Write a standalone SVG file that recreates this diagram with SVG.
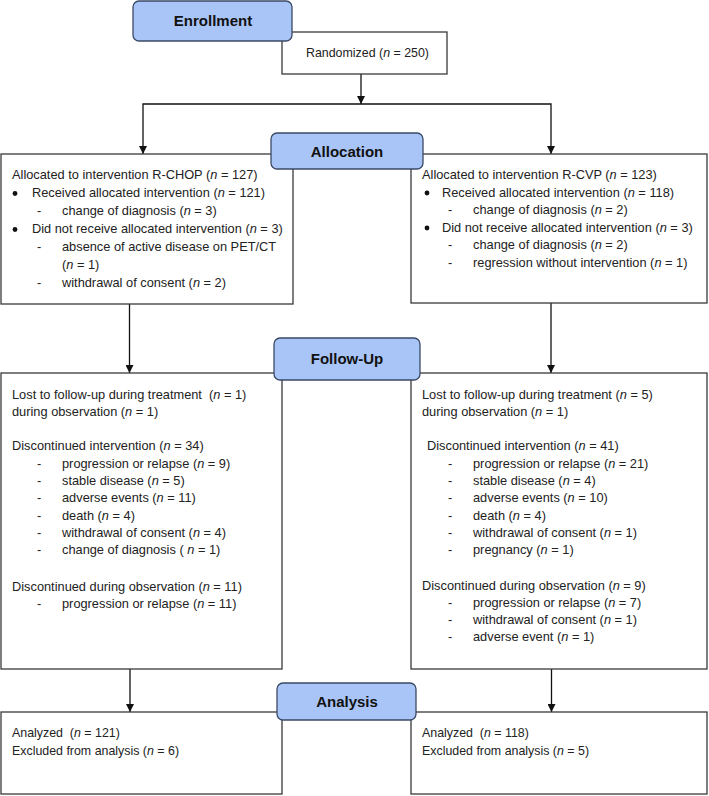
<svg xmlns="http://www.w3.org/2000/svg" width="709" height="796" viewBox="0 0 709 796" xml:space="preserve">
<defs>
<marker id="arr" viewBox="0 0 10 10" refX="10" refY="5" markerWidth="8" markerHeight="8" markerUnits="userSpaceOnUse" orient="auto"><path d="M0,0 L10,5 L0,10 z" fill="#111"/></marker>
<style>
.box{fill:#fff;stroke:#3a3a3a;stroke-width:1.3}
.lab{fill:#a9c5f7;stroke:#3a4a66;stroke-width:1.3}
.lt{font-family:"Liberation Sans",Arial,sans-serif;font-weight:bold;font-size:15px;fill:#111;text-anchor:middle}
.t{font-family:"Liberation Sans",Arial,sans-serif;font-size:12.8px;fill:#222;white-space:pre}
.s{font-family:"Liberation Sans",Arial,sans-serif;font-size:12.4px;fill:#222;white-space:pre}
.i{font-style:italic}
.con{fill:none;stroke:#111;stroke-width:1.3}
.bul{fill:#111}
</style>
</defs>
<rect width="709" height="796" fill="#fff"/>

<g id="connectors">
<path class="con" d="M361,74 V104" marker-end="url(#arr)"/>
<path class="con" d="M361,104 H143 V154" marker-end="url(#arr)"/>
<path class="con" d="M361,104 H551 V154" marker-end="url(#arr)"/>
<path class="con" d="M129.5,304 V373" marker-end="url(#arr)"/>
<path class="con" d="M551,303 V373" marker-end="url(#arr)"/>
<path class="con" d="M130,669 V712" marker-end="url(#arr)"/>
<path class="con" d="M551.5,669 V712" marker-end="url(#arr)"/>
</g>

<g id="randomized">
<rect class="box" x="282" y="32" width="165" height="42"/>
<text class="s" x="306" y="57">Randomized (<tspan class="i">n</tspan> = 250)</text>
</g>
<g id="enrollment">
<rect class="lab" x="133" y="1" width="159" height="40" rx="6"/>
<text class="lt" x="213" y="26">Enrollment</text>
</g>

<g id="alloc-left">
<rect class="box" x="1" y="154" width="292" height="150"/>
<text class="t" x="12" y="179">Allocated to intervention R-CHOP (<tspan class="i">n</tspan> = 127)</text>
<circle class="bul" cx="15" cy="193.5" r="2.4"/>
<text class="t" x="32" y="197">Received allocated intervention (<tspan class="i">n</tspan> = 121)</text>
<text class="t" x="37" y="215">-</text>
<text class="t" x="62" y="215">change of diagnosis (<tspan class="i">n</tspan> = 3)</text>
<circle class="bul" cx="15" cy="229.5" r="2.4"/>
<text class="t" x="32" y="233">Did not receive allocated intervention (<tspan class="i">n</tspan> = 3)</text>
<text class="t" x="37" y="251">-</text>
<text class="t" x="62" y="251">absence of active disease on PET/CT</text>
<text class="t" x="62" y="268.5">(<tspan class="i">n</tspan> = 1)</text>
<text class="t" x="37" y="286.5">-</text>
<text class="t" x="62" y="286.5">withdrawal of consent (<tspan class="i">n</tspan> = 2)</text>
</g>

<g id="alloc-right">
<rect class="box" x="411" y="154" width="296" height="149"/>
<text class="t" x="422" y="179">Allocated to intervention R-CVP (<tspan class="i">n</tspan> = 123)</text>
<circle class="bul" cx="427" cy="193" r="2.4"/>
<text class="t" x="442" y="196.5">Received allocated intervention (<tspan class="i">n</tspan> = 118)</text>
<text class="t" x="448" y="214">-</text>
<text class="t" x="473" y="214">change of diagnosis (<tspan class="i">n</tspan> = 2)</text>
<circle class="bul" cx="427" cy="228" r="2.4"/>
<text class="t" x="442" y="231.5">Did not receive allocated intervention (<tspan class="i">n</tspan> = 3)</text>
<text class="t" x="448" y="249">-</text>
<text class="t" x="473" y="249">change of diagnosis (<tspan class="i">n</tspan> = 2)</text>
<text class="t" x="448" y="266.5">-</text>
<text class="t" x="473" y="266.5">regression without intervention (<tspan class="i">n</tspan> = 1)</text>
</g>

<g id="allocation">
<rect class="lab" x="271" y="133" width="152" height="36" rx="6"/>
<text class="lt" x="347" y="157">Allocation</text>
</g>

<g id="followup-left">
<rect class="box" x="1" y="373" width="281" height="296"/>
<text class="t" x="12" y="398.5">Lost to follow-up during treatment  (<tspan class="i">n</tspan> = 1)</text>
<text class="t" x="12" y="415.8">during observation (<tspan class="i">n</tspan> = 1)</text>
<text class="t" x="12" y="450.4">Discontinued intervention (<tspan class="i">n</tspan> = 34)</text>
<text class="t" x="37" y="467.7">-</text>
<text class="t" x="62" y="467.7">progression or relapse (<tspan class="i">n</tspan> = 9)</text>
<text class="t" x="37" y="485">-</text>
<text class="t" x="62" y="485">stable disease (<tspan class="i">n</tspan> = 5)</text>
<text class="t" x="37" y="502.3">-</text>
<text class="t" x="62" y="502.3">adverse events (<tspan class="i">n</tspan> = 11)</text>
<text class="t" x="37" y="519.6">-</text>
<text class="t" x="62" y="519.6">death (<tspan class="i">n</tspan> = 4)</text>
<text class="t" x="37" y="536.9">-</text>
<text class="t" x="62" y="536.9">withdrawal of consent (<tspan class="i">n</tspan> = 4)</text>
<text class="t" x="37" y="554.2">-</text>
<text class="t" x="62" y="554.2">change of diagnosis ( <tspan class="i">n</tspan> = 1)</text>
<text class="t" x="12" y="590.5">Discontinued during observation (<tspan class="i">n</tspan> = 11)</text>
<text class="t" x="37" y="607.8">-</text>
<text class="t" x="62" y="607.8">progression or relapse (<tspan class="i">n</tspan> = 11)</text>
</g>

<g id="followup-right">
<rect class="box" x="411" y="373" width="296" height="296"/>
<text class="t" x="422" y="398.5">Lost to follow-up during treatment (<tspan class="i">n</tspan> = 5)</text>
<text class="t" x="422" y="415.8">during observation (<tspan class="i">n</tspan> = 1)</text>
<text class="t" x="427" y="450.4">Discontinued intervention (<tspan class="i">n</tspan> = 41)</text>
<text class="t" x="448" y="467.7">-</text>
<text class="t" x="473" y="467.7">progression or relapse (<tspan class="i">n</tspan> = 21)</text>
<text class="t" x="448" y="485">-</text>
<text class="t" x="473" y="485">stable disease (<tspan class="i">n</tspan> = 4)</text>
<text class="t" x="448" y="502.3">-</text>
<text class="t" x="473" y="502.3">adverse events (<tspan class="i">n</tspan> = 10)</text>
<text class="t" x="448" y="519.6">-</text>
<text class="t" x="473" y="519.6">death (<tspan class="i">n</tspan> = 4)</text>
<text class="t" x="448" y="536.9">-</text>
<text class="t" x="473" y="536.9">withdrawal of consent (<tspan class="i">n</tspan> = 1)</text>
<text class="t" x="448" y="554.2">-</text>
<text class="t" x="473" y="554.2">pregnancy (<tspan class="i">n</tspan> = 1)</text>
<text class="t" x="422" y="589.5">Discontinued during observation (<tspan class="i">n</tspan> = 9)</text>
<text class="t" x="448" y="606.8">-</text>
<text class="t" x="473" y="606.8">progression or relapse (<tspan class="i">n</tspan> = 7)</text>
<text class="t" x="448" y="624.1">-</text>
<text class="t" x="473" y="624.1">withdrawal of consent (<tspan class="i">n</tspan> = 1)</text>
<text class="t" x="448" y="641.4">-</text>
<text class="t" x="473" y="641.4">adverse event (<tspan class="i">n</tspan> = 1)</text>
</g>

<g id="followup">
<rect class="lab" x="274" y="338" width="146" height="42" rx="6"/>
<text class="lt" x="347" y="364">Follow-Up</text>
</g>

<g id="analysis-left">
<rect class="box" x="1" y="712" width="281" height="82"/>
<text class="s" x="12" y="737">Analyzed  (<tspan class="i">n</tspan> = 121)</text>
<text class="s" x="12" y="754.5">Excluded from analysis (<tspan class="i">n</tspan> = 6)</text>
</g>

<g id="analysis-right">
<rect class="box" x="411" y="712" width="296" height="82"/>
<text class="s" x="422" y="737">Analyzed  (<tspan class="i">n</tspan> = 118)</text>
<text class="s" x="422" y="754.5">Excluded from analysis (<tspan class="i">n</tspan> = 5)</text>
</g>

<g id="analysis">
<rect class="lab" x="277" y="683" width="139" height="37" rx="6"/>
<text class="lt" x="347" y="707">Analysis</text>
</g>
</svg>
